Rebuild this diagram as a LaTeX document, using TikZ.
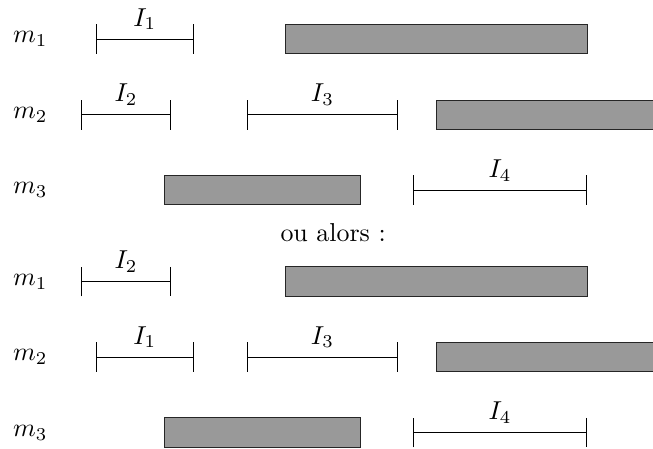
\documentclass[tikz,border=0pt]{standalone}
\usetikzlibrary{arrows.meta,positioning}

\begin{document}
\begin{tikzpicture}[
    busy/.style={
        rectangle,
        draw=black!85,
        fill=black!40,
        inner sep=0pt,
        minimum height=0.4cm,
        anchor=west
    },
    interval/.style={{Bar[width=0.4cm]}-{Bar[width=0.4cm]}}
]
    \useasboundingbox (0,0) rectangle (8.86,6.08);
    \clip (0,0) rectangle (8.86,6.08);

    %premier cas

    \node (m1_a) at (0.41,5.55) {$m_1$};
    \node (m2_a) at (0.41,4.52) {$m_2$};
    \node (m3_a) at (0.41,3.50) {$m_3$};

    \coordinate (i1_a_start) at (1.30,5.55);
    \coordinate (i1_a_end) at (2.63,5.55);
    \coordinate (i2_a_start) at (1.10,4.52);
    \coordinate (i2_a_end) at (2.32,4.52);
    \coordinate (i3_a_start) at (3.35,4.52);
    \coordinate (i3_a_end) at (5.40,4.52);
    \coordinate (i4_a_start) at (5.60,3.50);
    \coordinate (i4_a_end) at (7.97,3.50);

    \node (bar_m1_a) [busy, minimum width=4.10cm] at (3.87,5.55) {};
    \node (bar_m2_a) [busy, minimum width=3.20cm] at (5.92,4.52) {};
    \node (bar_m3_a) [busy, minimum width=2.66cm] at (2.23,3.50) {};

    \draw[interval] (i1_a_start) -- node (lbl_i1_a) [above] {$I_1$} (i1_a_end);
    \draw[interval] (i2_a_start) -- node (lbl_i2_a) [above] {$I_2$} (i2_a_end);
    \draw[interval] (i3_a_start) -- node (lbl_i3_a) [above] {$I_3$} (i3_a_end);
    \draw[interval] (i4_a_start) -- node (lbl_i4_a) [above] {$I_4$} (i4_a_end);

    \node (ou_alors) at (4.52,2.92) {ou alors :};

    %second cas

    \node (m1_b) at (0.41,2.26) {$m_1$};
    \node (m2_b) at (0.41,1.235) {$m_2$};
    \node (m3_b) at (0.41,0.21) {$m_3$};

    \coordinate (i2_b_start) at (1.10,2.26);
    \coordinate (i2_b_end) at (2.32,2.26);
    \coordinate (i1_b_start) at (1.30,1.235);
    \coordinate (i1_b_end) at (2.63,1.235);
    \coordinate (i3_b_start) at (3.35,1.235);
    \coordinate (i3_b_end) at (5.40,1.235);
    \coordinate (i4_b_start) at (5.60,0.21);
    \coordinate (i4_b_end) at (7.97,0.21);

    \node (bar_m1_b) [busy, minimum width=4.10cm] at (3.87,2.26) {};
    \node (bar_m2_b) [busy, minimum width=3.20cm] at (5.92,1.235) {};
    \node (bar_m3_b) [busy, minimum width=2.66cm] at (2.23,0.21) {};

    \draw[interval] (i2_b_start) -- node (lbl_i2_b) [above] {$I_2$} (i2_b_end);
    \draw[interval] (i1_b_start) -- node (lbl_i1_b) [above] {$I_1$} (i1_b_end);
    \draw[interval] (i3_b_start) -- node (lbl_i3_b) [above] {$I_3$} (i3_b_end);
    \draw[interval] (i4_b_start) -- node (lbl_i4_b) [above] {$I_4$} (i4_b_end);

\end{tikzpicture}
\end{document}
